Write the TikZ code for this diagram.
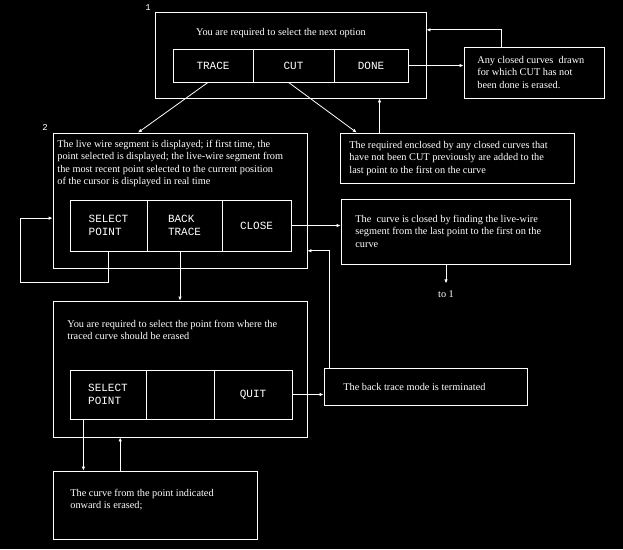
\documentclass[tikz,border=0pt]{standalone}
\usepackage{fontspec}
\setmainfont{Liberation Serif}
\newfontfamily\btnfont{Liberation Mono}
\usetikzlibrary{arrows.meta,calc}

\begin{document}
\begin{tikzpicture}[x=1pt, y=-1pt, white, line width=0.8pt,
    >={Latex[length=4pt,width=3.5pt]},
    box/.style={draw, rectangle, inner sep=0pt},
    btn/.style={draw, rectangle, inner sep=0pt, align=left, font=\btnfont\fontsize{11}{13}\selectfont},
    txt/.style={anchor=north west, inner sep=0pt, align=left, font=\fontsize{10.3}{12.6}\selectfont}]
  \fill[black] (0,0) rectangle (623,549);

  % frames
  \node (box1) [box, minimum width=271, minimum height=86] at (290.5,55) {};
  \node (any) [box, minimum width=140, minimum height=51] at (534,72.5) {};
  \node (req) [box, minimum width=234, minimum height=50] at (457,158) {};
  \node (box2) [box, minimum width=254, minimum height=135] at (180,200.5) {};
  \node (closed) [box, minimum width=229, minimum height=65] at (455.5,231.5) {};
  \node (box3) [box, minimum width=254, minimum height=136] at (180,369) {};
  \node (term) [box, minimum width=203, minimum height=37] at (425.5,386.5) {};
  \node (box4) [box, minimum width=204, minimum height=68] at (155,505) {};

  % buttons
  \node (trace) [btn, minimum width=80, minimum height=33] at (213,65.5) {TRACE};
  \node (cut) [btn, minimum width=81, minimum height=33] at (293.5,65.5) {CUT};
  \node (done) [btn, minimum width=74, minimum height=33] at (371,65.5) {DONE};
  \node (select) [btn, minimum width=77, minimum height=51] at (108.5,225.5) {SELECT\\POINT};
  \node (back) [btn, minimum width=75, minimum height=51] at (184.5,225.5) {BACK\\TRACE};
  \node (close) [btn, minimum width=69, minimum height=51] at (256.5,225.5) {CLOSE};
  \node (select-1) [btn, minimum width=76, minimum height=49] at (108,394.5) {SELECT\\POINT};
  \node (blank) [btn, minimum width=68, minimum height=49] at (180,394.5) {};
  \node (quit) [btn, minimum width=78, minimum height=49] at (253,394.5) {QUIT};

  % texts
  \node (num1) [font=\btnfont\fontsize{9}{10}\selectfont, inner sep=0pt] at (148,8) {1};
  \node (num2) [font=\btnfont\fontsize{9}{10}\selectfont, inner sep=0pt] at (45,127) {2};
  \node (title) [font=\fontsize{10.3}{12.6}\selectfont, inner sep=0pt] at (281,33.5) {You are required to select the next option};
  \node (any-txt) [txt] at (477,55.5) {Any closed curves\ \ drawn\\for which CUT has not\\been done is erased.};
  \node (box2-txt) [txt] at (57,139.5) {The live wire segment is displayed; if first time, the\\point selected is displayed; the live-wire segment from\\the most recent point selected to the current position\\of the cursor is displayed in real time};
  \node (req-txt) [txt] at (349,140.5) {The required enclosed by any closed curves that\\have not been CUT previously are added to the\\last point to the first on the curve};
  \node (closed-txt) [txt] at (355,214.5) {The\ \ curve is closed by finding the live-wire\\segment from the last point to the first on the\\curve};
  \node (box3-txt) [txt] at (67,319.5) {You are required to select the point from where the\\traced curve should be erased};
  \node (term-txt) [txt] at (343,382.5) {The back trace mode is terminated};
  \node (box4-txt) [txt] at (70,488.5) {The curve from the point indicated\\onward is erased;};
  \node (to1) [font=\fontsize{10.3}{12.6}\selectfont, inner sep=1pt] at (446,294) {to 1};

  % connectors
  \draw[->] ($(trace.south)+(-5,0)$) -- ($(box2.north west)!0.335!(box2.north east)$);
  \draw[->] ($(cut.south)+(-5,0)$) -- ($(req.north west)!0.073!(req.north east)$);
  \draw[->] (done.east) -- (done.east -| any.west);
  \draw[->] ($(any.north west)!0.27!(any.north east)$) |- ($(box1.north east)!0.21!(box1.south east)$);
  \draw[->] ($(req.north west)!0.17!(req.north east)$) coordinate (r1) -- (r1 |- box1.south);
  \draw[->] (select.south) -- ++(0,31) -- ++(-88,0) |- ($(box2.north west)!0.63!(box2.south west)$);
  \draw[->] (back.south -| box3.north) -- (box3.north);
  \draw[->] (close.east) -- (close.east -| closed.west);
  \draw[->] ($(term.north west)!0.03!(term.north east)$) |- ($(box2.north east)!0.87!(box2.south east)$);
  \draw[->] (closed.south -| to1.north) -- ++(0,19);
  \draw[->] (quit.east) -- (quit.east -| term.west);
  \draw[->] ($(select-1.south west)!0.18!(select-1.south east)$) coordinate (s1) -- (s1 |- box4.north);
  \draw[->] ($(box4.north west)!0.33!(box4.north east)$) coordinate (b1) -- (b1 |- box3.south);
\end{tikzpicture}
\end{document}
